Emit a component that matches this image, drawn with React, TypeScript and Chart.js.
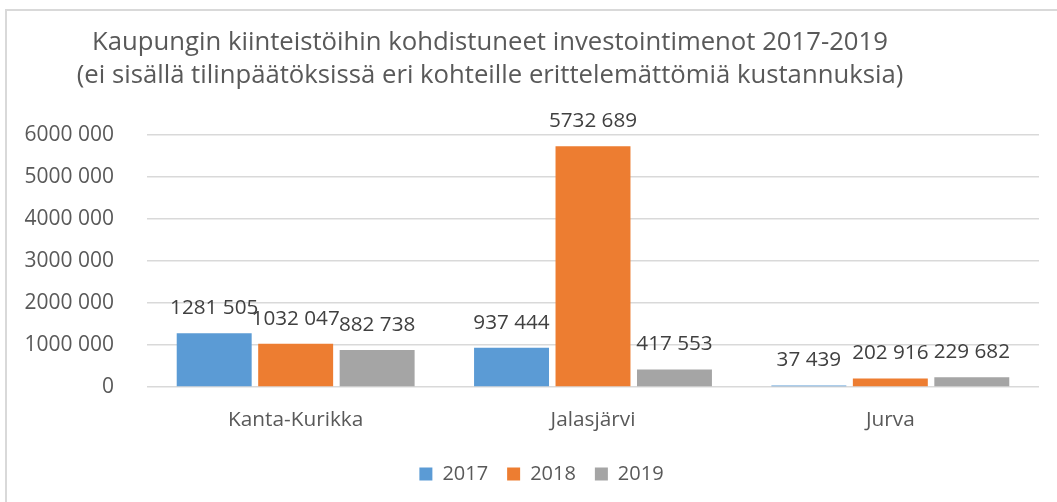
import React, { useEffect, useRef } from "react";
import { Chart, registerables } from "chart.js";

Chart.register(...registerables);

const titleLines = [
  "Kaupungin kiinteistöihin kohdistuneet investointimenot 2017-2019",
  "(ei sisällä tilinpäätöksissä eri kohteille erittelemättömiä kustannuksia)",
];
const categories = ["Kanta-Kurikka", "Jalasjärvi", "Jurva"];
const seriesNames = ["2017", "2018", "2019"];
const values2017 = [1281505, 937444, 37439];
const values2018 = [1032047, 5732689, 202916];
const values2019 = [882738, 417553, 229682];
const seriesColors = ["#5B9BD5", "#ED7D31", "#A5A5A5"];
const yMin = 0;
const yMax = 6000000;
const yStep = 1000000;

const FONT = "'Open Sans', sans-serif";

function fmt(n: number): string {
  if (n < 1000) return String(n);
  const hi = Math.floor(n / 1000);
  const lo = n % 1000;
  return `${hi} ${String(lo).padStart(3, "0")}`;
}

const titlePlugin = {
  id: "customTitle",
  afterDraw(chart: any) {
    const ctx = chart.ctx;
    ctx.save();
    ctx.font = `25.7px ${FONT}`;
    ctx.fillStyle = "#595959";
    ctx.textAlign = "center";
    ctx.textBaseline = "middle";
    ctx.fillText(titleLines[0], 490, 43);
    ctx.fillText(titleLines[1], 490, 76);
    ctx.restore();
  },
};

const legendShiftPlugin = {
  id: "legendShift",
  afterLayout(chart: any) {
    if (chart.legend) {
      chart.legend.left = 44;
      chart.legend.right = 1039;
    }
  },
};

const dataLabelPlugin = {
  id: "dataLabels",
  afterDatasetsDraw(chart: any) {
    const ctx = chart.ctx;
    ctx.save();
    ctx.font = `20.7px ${FONT}`;
    ctx.fillStyle = "#404040";
    ctx.textAlign = "center";
    ctx.textBaseline = "middle";
    chart.data.datasets.forEach((ds: any, i: number) => {
      const meta = chart.getDatasetMeta(i);
      meta.data.forEach((bar: any, j: number) => {
        ctx.fillText(fmt(ds.data[j]), bar.x, bar.y - 25);
      });
    });
    ctx.restore();
  },
};

export default function App() {
  const canvasRef = useRef<HTMLCanvasElement | null>(null);

  useEffect(() => {
    if (!canvasRef.current) return;
    const seriesValues = [values2017, values2018, values2019];
    const chart = new Chart(canvasRef.current, {
      type: "bar",
      data: {
        labels: categories,
        datasets: seriesNames.map((name, i) => ({
          label: name,
          data: seriesValues[i],
          backgroundColor: seriesColors[i],
          borderWidth: 0,
          categoryPercentage: 0.822,
          barPercentage: 0.92,
        })),
      },
      options: {
        responsive: false,
        animation: false,
        devicePixelRatio: 1,
        layout: { padding: { top: 135, left: 0, right: 18, bottom: 8 } },
        plugins: {
          title: { display: false },
          tooltip: { enabled: false },
          legend: {
            display: true,
            position: "bottom",
            labels: {
              boxWidth: 13,
              boxHeight: 13,
              padding: 19,
              color: "#595959",
              font: { family: FONT, size: 20 },
            },
          },
        },
        scales: {
          x: {
            grid: { display: false },
            border: { display: false },
            ticks: {
              color: "#595959",
              font: { family: FONT, size: 20.8 },
              padding: 13,
            },
            afterFit: (s: any) => {
              s.height = 58;
            },
          },
          y: {
            min: yMin,
            max: yMax,
            grid: { color: "#d9d9d9", lineWidth: 1.5, drawTicks: false },
            border: { display: false },
            ticks: {
              stepSize: yStep,
              color: "#595959",
              font: { family: FONT, size: 21 },
              padding: 33,
              callback: (v: any) => fmt(Number(v)),
            },
            afterFit: (s: any) => {
              s.width = 147;
            },
          },
        },
      },
      plugins: [titlePlugin, dataLabelPlugin, legendShiftPlugin],
    });
    return () => chart.destroy();
  }, []);

  return (
    <div
      style={{
        position: "fixed",
        left: 0,
        top: 0,
        width: 1057,
        height: 502,
        background: "#fff",
        overflow: "hidden",
      }}
    >
      <div
        style={{
          position: "absolute",
          left: 5,
          top: 9,
          width: 1100,
          height: 600,
          borderLeft: "2px solid #d9d9d9",
          borderTop: "2px solid #d9d9d9",
        }}
      />
      <canvas
        ref={canvasRef}
        width={1057}
        height={502}
        style={{ position: "absolute", left: 0, top: 0, width: 1057, height: 502 }}
      />
    </div>
  );
}
